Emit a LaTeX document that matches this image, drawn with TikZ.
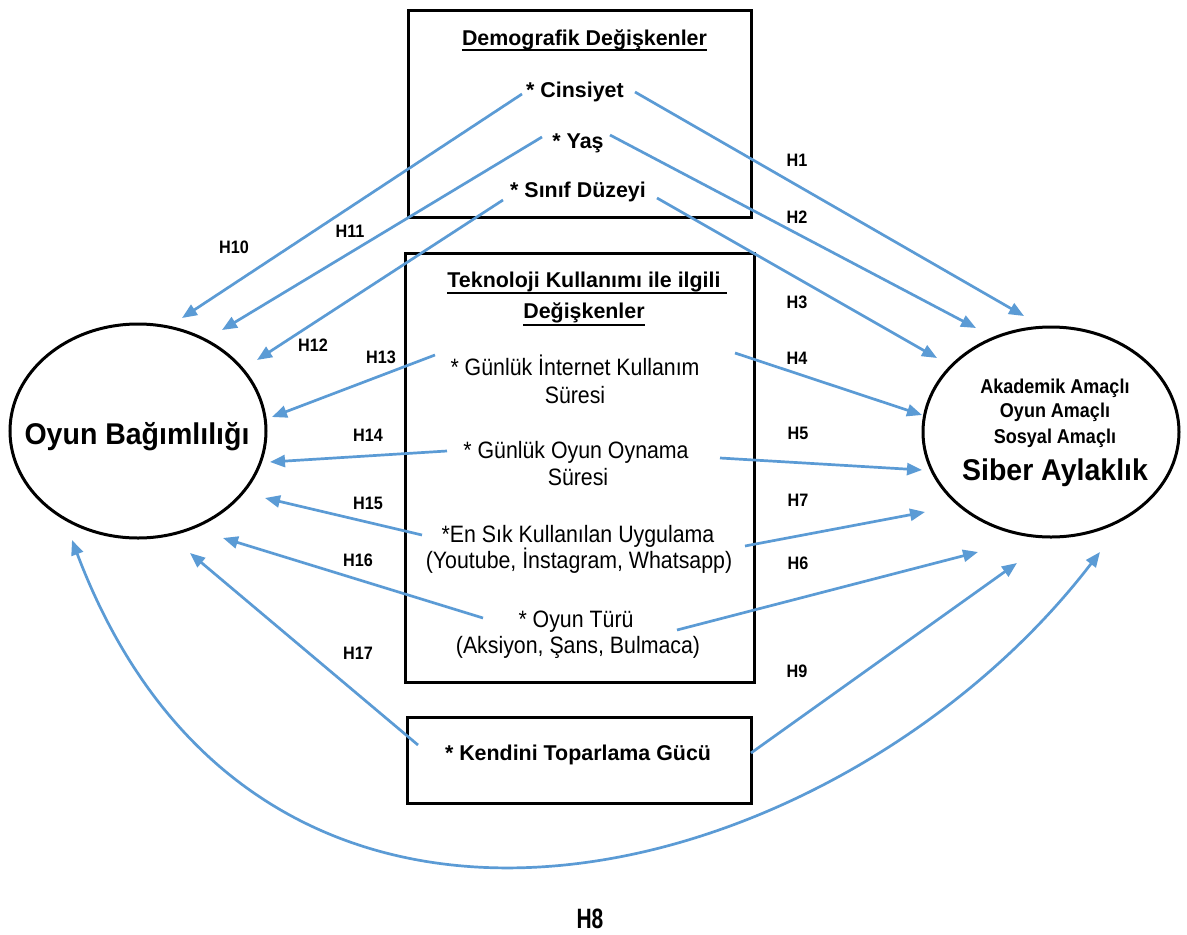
\documentclass[tikz,border=0pt]{standalone}
\usepackage{fontspec}
\setmainfont{Liberation Sans}
\newfontfamily\cond[FakeStretch=0.9]{Liberation Sans}
\newfontfamily\condx[FakeStretch=0.75]{Liberation Sans}
\newfontfamily\condy[FakeStretch=0.95]{Liberation Sans}
\usetikzlibrary{arrows.meta,shapes.geometric}
\definecolor{arrblue}{HTML}{5B9BD5}
\tikzset{
  conn/.style={draw=arrblue, line width=2.7pt, -{Triangle[length=15pt,width=12pt]}},
  conn2/.style={draw=arrblue, line width=2.7pt, {Triangle[length=15pt,width=12pt]}-{Triangle[length=15pt,width=12pt]}},
  box/.style={draw=black, line width=3pt, rectangle, inner sep=0pt},
  btxt/.style={font=\fontsize{21.4}{26}\selectfont\bfseries, inner sep=0pt, anchor=base},
  rtxt/.style={font=\cond\fontsize{23.7}{28}\selectfont, inner sep=0pt, anchor=base},
  hlab/.style={font=\cond\fontsize{18}{20}\selectfont\bfseries, inner sep=0pt},
  oval/.style={ellipse, draw=black, line width=3pt, minimum width=256pt, minimum height=212pt, inner sep=0pt},
  uline/.style={draw=black, line width=1.4pt},
}
\begin{document}
\begin{tikzpicture}[x=1pt,y=-1pt]
\useasboundingbox (0,0) rectangle (1187,935);
\fill[white] (0,0) rectangle (1187,935);

% boxes
\node[box, minimum width=343pt, minimum height=207pt] (demo) at (579.5,113.5) {};
\node[box, minimum width=349pt, minimum height=429pt] (tek) at (579.5,467.5) {};
\node[box, minimum width=344pt, minimum height=86pt] (kend) at (579,760) {};

% top box texts
\node[btxt] (demoh) at (584.5,45) {Demografik Değişkenler};
\draw[uline] ([yshift=-5pt]demoh.base west) -- ([yshift=-5pt]demoh.base east);
\node[btxt] (cins) at (575,97) {* Cinsiyet};
\node[btxt] (yas) at (578,148) {* Yaş};
\node[btxt] (sinif) at (578,197) {* Sınıf Düzeyi};

% middle box texts
\node[btxt] (tekh1) at (584,287) {Teknoloji Kullanımı ile ilgili};
\draw[uline] ([yshift=-6pt]tekh1.base west) -- ([yshift=-6pt,xshift=6pt]tekh1.base east);
\node[btxt] (tekh2) at (584,318) {Değişkenler};
\draw[uline] ([yshift=-7pt]tekh2.base west) -- ([yshift=-7pt]tekh2.base east);
\node[rtxt] (gi1) at (575,375) {* Günlük İnternet Kullanım};
\node[rtxt] (gi2) at (575,403) {Süresi};
\node[rtxt] (go1) at (576,458) {* Günlük Oyun Oynama};
\node[rtxt] (go2) at (578,485) {Süresi};
\node[rtxt] (es1) at (578,542) {*En Sık Kullanılan Uygulama};
\node[rtxt] (es2) at (579,568) {(Youtube, İnstagram, Whatsapp)};
\node[rtxt] (ot1) at (576,627) {* Oyun Türü};
\node[rtxt] (ot2) at (578,653) {(Aksiyon, Şans, Bulmaca)};

% bottom box
\node[btxt] (ktg) at (578,760) {* Kendini Toparlama Gücü};

% ellipses
\node[oval, minimum height=214pt] (ob) at (138,431) {};
\node[font=\condy\fontsize{30}{34}\selectfont\bfseries, inner sep=0pt, anchor=base] (obt) at (137,444) {Oyun Bağımlılığı};
\node[oval, minimum height=210pt] (sa) at (1051,432) {};
\node[font=\cond\fontsize{20}{22}\selectfont\bfseries, inner sep=0pt, anchor=base] (sa1) at (1055,393) {Akademik Amaçlı};
\node[font=\cond\fontsize{20}{22}\selectfont\bfseries, inner sep=0pt, anchor=base] (sa2) at (1055,417) {Oyun Amaçlı};
\node[font=\cond\fontsize{20}{22}\selectfont\bfseries, inner sep=0pt, anchor=base] (sa3) at (1055,443) {Sosyal Amaçlı};
\node[font=\condy\fontsize{30}{34}\selectfont\bfseries, inner sep=0pt, anchor=base] (sa4) at (1055,480) {Siber Aylaklık};

% connector end points
\coordinate (s1) at (635,92);   \coordinate (e1) at (1024,316);
\coordinate (s2) at (610,135);  \coordinate (e2) at (976,328);
\coordinate (s3) at (657,198);  \coordinate (e3) at (937,358);
\coordinate (s4) at (735,353);  \coordinate (e4) at (922,415);
\coordinate (s5) at (720,458);  \coordinate (e5) at (922,470);
\coordinate (s7) at (745,546);  \coordinate (e7) at (925,512);
\coordinate (s6) at (677,630);  \coordinate (e6) at (978,552);
\coordinate (s9) at (751,753);  \coordinate (e9) at (1017,563);
\coordinate (e8r) at (1100,552); \coordinate (e8l) at (72,540);
\coordinate (s10) at (522,94);  \coordinate (e10) at (182,318);
\coordinate (s11) at (542,137); \coordinate (e11) at (222,330);
\coordinate (s12) at (503,200); \coordinate (e12) at (257,360);
\coordinate (s13) at (435,355); \coordinate (e13) at (272,417);
\coordinate (s14) at (447,451); \coordinate (e14) at (270,462);
\coordinate (s15) at (422,535); \coordinate (e15) at (265,498);
\coordinate (s16) at (483,618); \coordinate (e16) at (223,538);
\coordinate (s17) at (418,745); \coordinate (e17) at (190,553);

% connectors
\draw[conn] (s1) -- (e1);
\draw[conn] (s2) -- (e2);
\draw[conn] (s3) -- (e3);
\draw[conn] (s4) -- (e4);
\draw[conn] (s5) -- (e5);
\draw[conn] (s7) -- (e7);
\draw[conn] (s6) -- (e6);
\draw[conn] (s9) -- (e9);
\draw[conn2] (e8r) .. controls (845,885) and (265,1050) .. (e8l);
\draw[conn] (s10) -- (e10);
\draw[conn] (s11) -- (e11);
\draw[conn] (s12) -- (e12);
\draw[conn] (s13) -- (e13);
\draw[conn] (s14) -- (e14);
\draw[conn] (s15) -- (e15);
\draw[conn] (s16) -- (e16);
\draw[conn] (s17) -- (e17);

% labels
\node[hlab] (h1) at (797,160) {H1};
\node[hlab] (h2) at (797,217) {H2};
\node[hlab] (h3) at (797,302) {H3};
\node[hlab] (h4) at (797,358) {H4};
\node[hlab] (h5) at (798,433) {H5};
\node[hlab] (h7) at (798,500) {H7};
\node[hlab] (h6) at (798,563) {H6};
\node[hlab] (h9) at (797,671) {H9};
\node[hlab] (h10) at (234,247) {H10};
\node[hlab] (h11) at (350,231) {H11};
\node[hlab] (h12) at (313,345) {H12};
\node[hlab] (h13) at (381,357) {H13};
\node[hlab] (h14) at (368,435) {H14};
\node[hlab] (h15) at (368,503) {H15};
\node[hlab] (h16) at (358,560) {H16};
\node[hlab] (h17) at (358,653) {H17};
\node[font=\condx\fontsize{28}{30}\selectfont\bfseries, inner sep=0pt] (h8) at (590,919) {H8};
\end{tikzpicture}
\end{document}
